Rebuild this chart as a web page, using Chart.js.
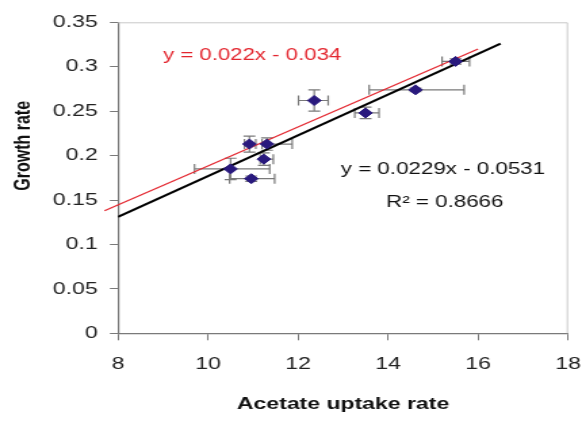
<!DOCTYPE html>
<html>
<head>
<meta charset="utf-8">
<script src="https://cdn.jsdelivr.net/npm/chart.js@4.4.1/dist/chart.umd.min.js"></script>
<style>
  html, body { margin: 0; padding: 0; background: #fff; }
</style>
</head>
<body>
<!-- el original esta estirado en horizontal: el canvas de 430px se muestra a 582px -->
<canvas id="chart__canvas" width="430" height="421" style="width:582px;height:421px"></canvas>
<script>
// DATOS
const uptake = [15.50, 14.61, 12.36, 13.50, 10.92, 11.31, 11.24, 10.50, 10.96];
const growth = [0.306, 0.274, 0.262, 0.248, 0.213, 0.213, 0.196, 0.185, 0.174];
const uptakeErrLow = [0.30, 1.03, 0.35, 0.24, 0.11, 0.11, 0.08, 0.80, 0.48];
const uptakeErrHigh = [0.31, 1.08, 0.31, 0.30, 0.14, 0.56, 0.21, 0.87, 0.52];
const growthErr = [0.003, 0.002, 0.012, 0.0065, 0.009, 0.007, 0.007, 0.012, 0.003];

// lineas de tendencia (extremos)
const fitBlackX = [8, 16.5];
const fitBlackY = [0.131, 0.326];
const fitRedX = [7.7, 16.0];
const fitRedY = [0.138, 0.320];

const xTicks = [8, 10, 12, 14, 16, 18];
const yTicks = [0, 0.05, 0.1, 0.15, 0.2, 0.25, 0.3, 0.35];

const xTitle = "Acetate uptake rate";
const yTitle = "Growth rate";
const eqRed = "y = 0.022x - 0.034";
const eqBlack = "y = 0.0229x - 0.0531";
const eqR2 = "R\u00B2 = 0.8666";

const FONT = '"Liberation Sans", Arial, sans-serif';

const toPoints = (xs, ys) => xs.map((x, i) => ({ x, y: ys[i] }));

// PLUGIN: barras de error, marco y textos
const errorBars = {
    id: "errorBars",
    beforeDatasetsDraw(chart) {
        const { ctx, chartArea, scales: { x, y } } = chart;
        ctx.save();
        // marco superior y derecho
        ctx.strokeStyle = "#c8c8c8";
        ctx.lineWidth = 1;
        ctx.beginPath();
        ctx.moveTo(chartArea.left, chartArea.top + 0.5);
        ctx.lineTo(chartArea.right - 0.5, chartArea.top + 0.5);
        ctx.lineTo(chartArea.right - 0.5, chartArea.bottom);
        ctx.stroke();

        ctx.strokeStyle = "#7a7a7a";
        ctx.lineWidth = 1.2;
        const capH = 5;   // tapa de barra horizontal
        const capW = 4.4; // tapa de barra vertical
        uptake.forEach((ux, i) => {
            const px = x.getPixelForValue(ux);
            const py = y.getPixelForValue(growth[i]);
            const x1 = x.getPixelForValue(ux - uptakeErrLow[i]);
            const x2 = x.getPixelForValue(ux + uptakeErrHigh[i]);
            const y1 = y.getPixelForValue(growth[i] + growthErr[i]);
            const y2 = y.getPixelForValue(growth[i] - growthErr[i]);
            ctx.beginPath();
            ctx.moveTo(x1, py); ctx.lineTo(x2, py);
            ctx.moveTo(x1, py - capH); ctx.lineTo(x1, py + capH);
            ctx.moveTo(x2, py - capH); ctx.lineTo(x2, py + capH);
            ctx.moveTo(px, y1); ctx.lineTo(px, y2);
            ctx.moveTo(px - capW, y1); ctx.lineTo(px + capW, y1);
            ctx.moveTo(px - capW, y2); ctx.lineTo(px + capW, y2);
            ctx.stroke();
        });
        ctx.restore();
    },
    afterDatasetsDraw(chart) {
        const { ctx, scales: { x, y } } = chart;
        ctx.save();
        ctx.font = "16.4px " + FONT;
        ctx.textBaseline = "middle";
        ctx.fillStyle = "#e3262f";
        ctx.textAlign = "left";
        ctx.fillText(eqRed, x.getPixelForValue(9.0), y.getPixelForValue(0.313));
        ctx.font = "16.5px " + FONT;
        ctx.fillStyle = "#111";
        ctx.textAlign = "center";
        ctx.fillText(eqBlack, x.getPixelForValue(15.22), y.getPixelForValue(0.1846));
        ctx.fillText(eqR2, x.getPixelForValue(15.26), y.getPixelForValue(0.147));

        // titulo del eje Y (no esta centrado en el eje en el original)
        ctx.font = "bold 16px " + FONT;
        ctx.translate(17.8, y.getPixelForValue(0.211));
        ctx.rotate(-Math.PI / 2);
        ctx.fillText(yTitle, 0, 0);
        ctx.restore();
    }
};

const config = {
    type: "scatter",
    data: {
        datasets: [
            {
                label: "Growth",
                data: toPoints(uptake, growth),
                pointStyle: "rectRot",
                pointRadius: 5,
                pointBackgroundColor: "#29197d",
                pointBorderColor: "#29197d",
                pointBorderWidth: 1,
                order: 0,
            },
            {
                label: "fit",
                type: "line",
                data: toPoints(fitBlackX, fitBlackY),
                borderColor: "#000",
                borderWidth: 2,
                pointRadius: 0,
                order: 1,
            },
            {
                label: "fit red",
                type: "line",
                data: toPoints(fitRedX, fitRedY),
                borderColor: "#e3262f",
                borderWidth: 1.2,
                pointRadius: 0,
                clip: false,
                order: 2,
            },
        ],
    },
    options: {
        responsive: false,
        devicePixelRatio: 1,
        animation: false,
        events: [],
        layout: { padding: { left: 0, right: 0, top: 22.3, bottom: 0 } },
        plugins: { legend: { display: false }, tooltip: { enabled: false } },
        scales: {
            x: {
                type: "linear",
                min: 8,
                max: 18,
                afterFit: (s) => {
                    s.height = 87.7;
                    s.paddingLeft = 0;
                    s.paddingRight = 10.3;
                },
                afterBuildTicks: (s) => { s.ticks = xTicks.map((v) => ({ value: v })); },
                grid: { drawOnChartArea: false, tickLength: 7, color: "#7a7a7a" },
                border: { color: "#7a7a7a", width: 1.2 },
                ticks: {
                    padding: 14,
                    color: "#222",
                    font: { family: FONT, size: 17 },
                    maxRotation: 0,
                },
                title: {
                    display: true,
                    text: xTitle,
                    color: "#111",
                    font: { family: FONT, size: 17, weight: "bold" },
                    padding: { top: 0, bottom: 6 },
                },
            },
            y: {
                min: 0,
                max: 0.35,
                afterFit: (s) => {
                    s.width = 87.2;
                    s.paddingTop = 0;
                    s.paddingBottom = 0;
                },
                afterBuildTicks: (s) => { s.ticks = yTicks.map((v) => ({ value: v })); },
                grid: { drawOnChartArea: false, tickLength: 6, color: "#7a7a7a" },
                border: { color: "#7a7a7a", width: 1.2 },
                ticks: {
                    padding: 9,
                    color: "#222",
                    font: { family: FONT, size: 17 },
                    callback: (v) => String(Math.round(v * 100) / 100),
                },
            },
        },
    },
    plugins: [errorBars],
};

const ctx = document.getElementById("chart__canvas").getContext("2d");
const myChart = new Chart(ctx, config);
</script>
</body>
</html>
